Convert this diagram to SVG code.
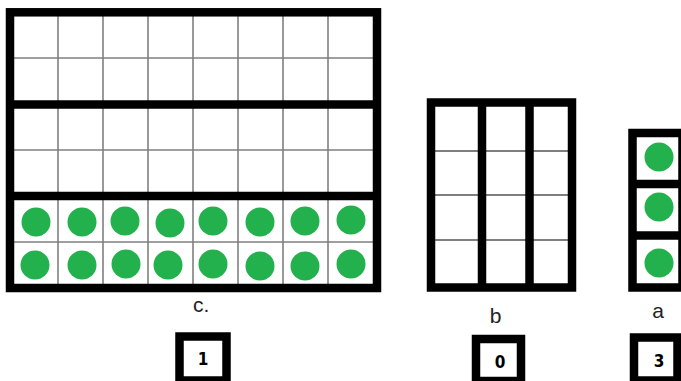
<svg xmlns="http://www.w3.org/2000/svg" width="681" height="381" viewBox="0 0 681 381">
<style>
.thin{stroke:#808080;stroke-width:1.6;fill:none}
.thick{stroke:#000;stroke-width:8.5;fill:none}
.dot{fill:#22b14c}
.lbl{font-family:"Liberation Sans",Arial,sans-serif;font-size:21px;fill:#222}
.num{font-family:"DejaVu Sans Condensed","Liberation Sans",sans-serif;font-weight:bold;font-size:17px;fill:#000}
</style>
<rect width="681" height="381" fill="#fff"/>
<g id="grid-c">
  <g class="thin">
    <path d="M58,14V284M103,14V284M148,14V284M193,14V284M238,14V284M283,14V284M328,14V284"/>
    <path d="M14,58H373M14,150H373M14,242H373"/>
  </g>
  <g class="thick">
    <rect x="10" y="12.3" width="367" height="275.7"/>
    <path d="M10,104.5H377M10,196H377"/>
  </g>
  <g class="dot">
    <circle cx="36" cy="222" r="14.5"/><circle cx="82" cy="222" r="14.5"/><circle cx="125" cy="221" r="14.5"/><circle cx="170" cy="223" r="14.5"/>
    <circle cx="213" cy="221" r="14.5"/><circle cx="260" cy="222" r="14.5"/><circle cx="305" cy="221" r="14.5"/><circle cx="351" cy="220" r="14.5"/>
    <circle cx="35" cy="265" r="14.5"/><circle cx="82" cy="265" r="14.5"/><circle cx="126" cy="264" r="14.5"/><circle cx="168" cy="265" r="14.5"/>
    <circle cx="213" cy="264" r="14.5"/><circle cx="260" cy="266" r="14.5"/><circle cx="305" cy="266" r="14.5"/><circle cx="351" cy="264" r="14.5"/>
  </g>
</g>
<g id="grid-b">
  <path class="thin" style="stroke:#555" d="M435,151H568M435,195H568M435,240H568"/>
  <g class="thick">
    <rect x="431" y="102.5" width="141" height="185"/>
    <path d="M482,102V288M529.5,102V288"/>
  </g>
</g>
<g id="grid-a">
  <g class="thick">
    <rect x="632.5" y="133" width="50" height="154.5"/>
    <path d="M632,184H682M632,235.5H682"/>
  </g>
  <g class="dot">
    <circle cx="659" cy="157" r="14.5"/><circle cx="659" cy="207" r="14.5"/><circle cx="659" cy="263" r="14.5"/>
  </g>
</g>
<g id="label-c"><text class="lbl" x="193" y="312">c.</text></g>
<g id="label-b"><text class="lbl" x="495.5" y="323" text-anchor="middle">b</text></g>
<g id="label-a"><text class="lbl" x="658" y="318" text-anchor="middle">a</text></g>
<g id="box-1">
  <rect class="thick" x="179.5" y="336.5" width="47" height="44"/>
  <text class="num" x="203" y="365" text-anchor="middle">1</text>
</g>
<g id="box-0">
  <rect class="thick" x="476" y="339" width="45" height="42"/>
  <text class="num" x="500" y="368" text-anchor="middle">0</text>
</g>
<g id="box-3">
  <rect class="thick" x="634" y="337.5" width="43.5" height="43"/>
  <text class="num" x="659" y="367" text-anchor="middle">3</text>
</g>
</svg>
